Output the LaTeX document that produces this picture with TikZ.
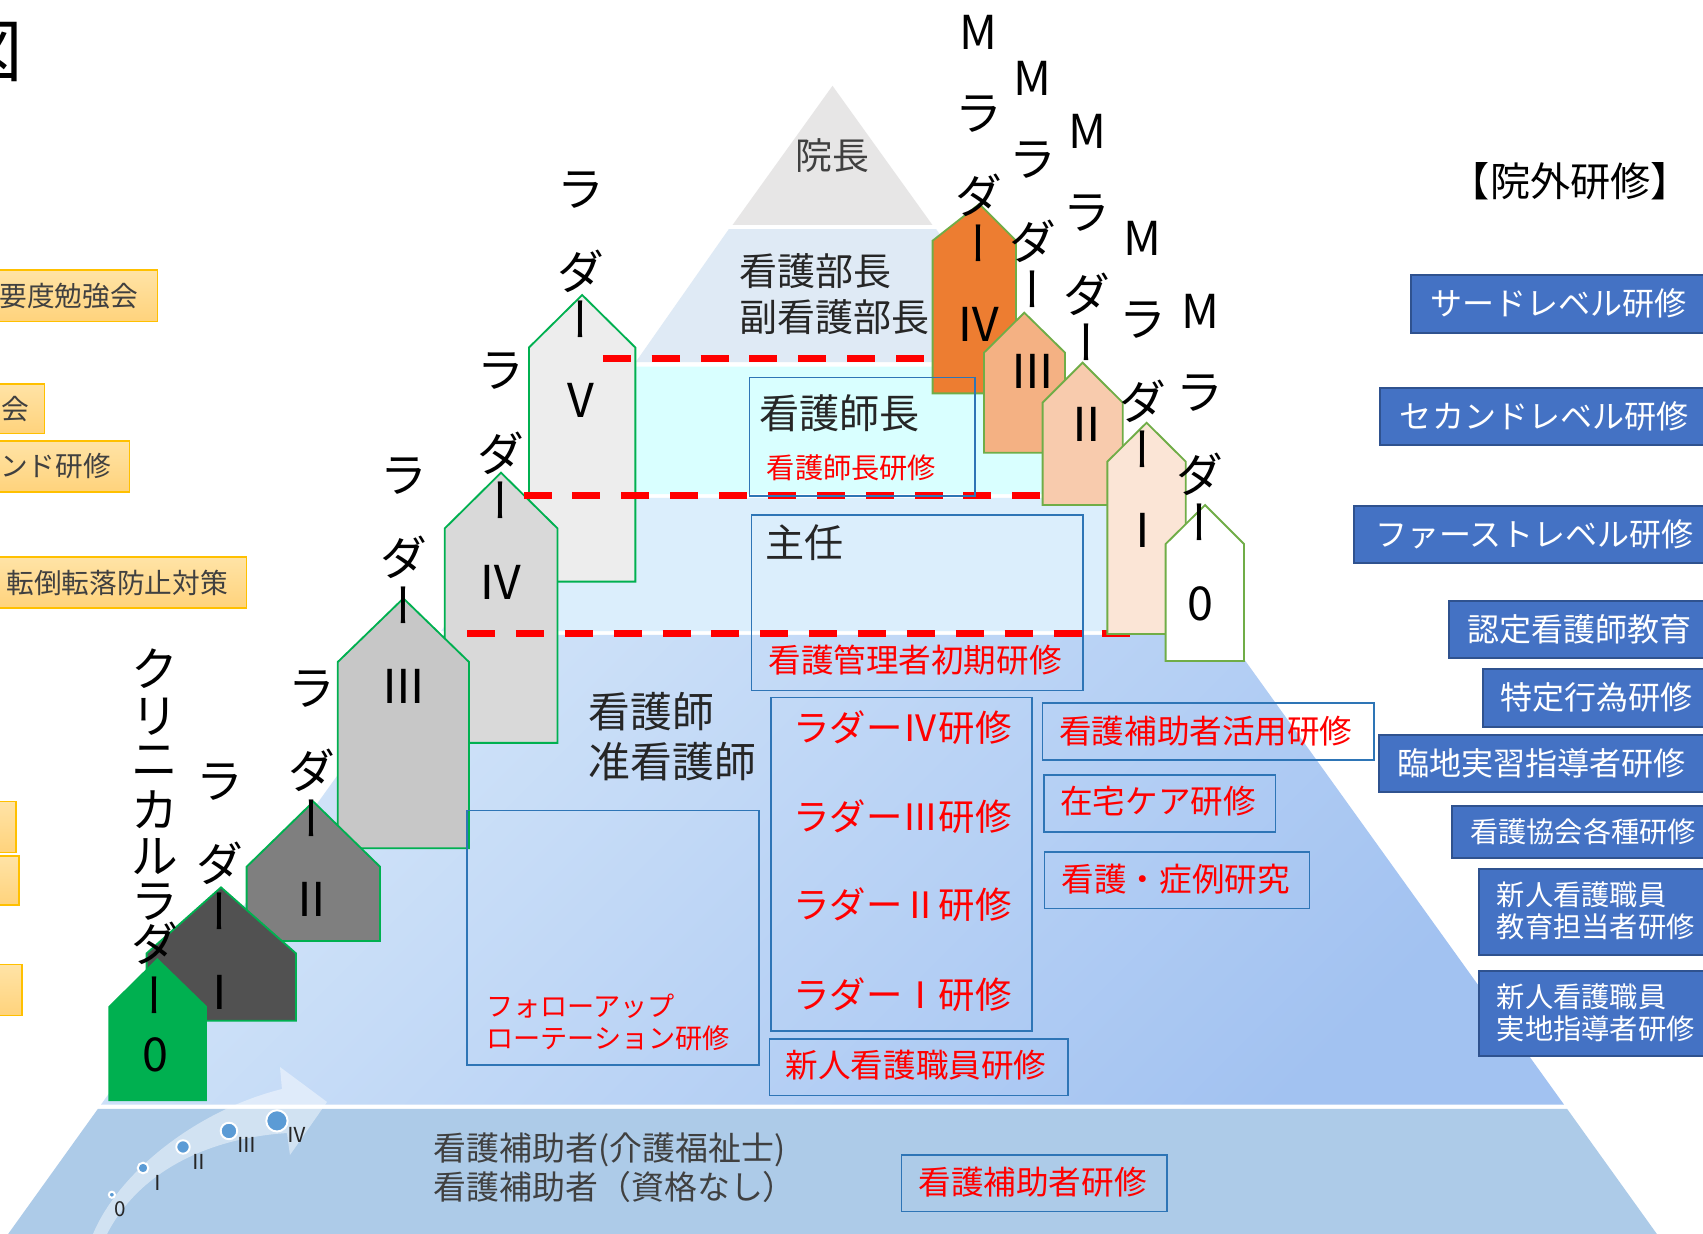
\documentclass[tikz,border=0pt]{standalone}
\usepackage{fontspec}
\setmainfont{Noto Sans CJK JP}
\newfontfamily\vjp{Noto Sans CJK JP}[RawFeature=+vert]
\definecolor{tgray}{HTML}{262626}
\definecolor{tdark}{HTML}{404040}
\definecolor{bandA}{HTML}{E7E6E6}
\definecolor{bandB}{HTML}{DFEAF5}
\definecolor{bandC}{HTML}{D9FFFF}
\definecolor{bandD}{HTML}{DBEEFC}
\definecolor{bandEa}{HTML}{D3E5F9}
\definecolor{bandEb}{HTML}{A2C2F1}
\definecolor{bandF}{HTML}{ADCBE8}
\definecolor{lineblue}{HTML}{2E75B6}
\definecolor{hgreen}{HTML}{00B050}
\definecolor{mgreen}{HTML}{70AD47}
\definecolor{hIc}{HTML}{515151}
\definecolor{hIIc}{HTML}{7F7F7F}
\definecolor{hIIIc}{HTML}{C7C7C7}
\definecolor{hIVc}{HTML}{D9D9D9}
\definecolor{hVc}{HTML}{EDEDED}
\definecolor{mIVc}{HTML}{ED7D31}
\definecolor{mIIIc}{HTML}{F4B183}
\definecolor{mIIc}{HTML}{F8CBAD}
\definecolor{mIc}{HTML}{FBE5D6}
\definecolor{rbfill}{HTML}{4472C4}
\definecolor{rbdraw}{HTML}{2F528F}
\definecolor{obA}{HTML}{FFE3A6}
\definecolor{obB}{HTML}{FFD37C}
\definecolor{obdraw}{HTML}{FFC000}
\definecolor{dotc}{HTML}{5B9BD5}
\definecolor{jred}{HTML}{FF0000}

\newcommand\fsz[2]{\fontsize{\fpeval{#1/2}pt}{\fpeval{#2/2}pt}\selectfont}

% x1 x2 apexx apexy shoulder bottom fill draw
\newcommand\house[8]{%
  \filldraw[fill=#7, draw=#8, line width=0.85pt, line join=miter]
    (#1,#6) -- (#1,#5) -- (#3,#4) -- (#2,#5) -- (#2,#6) -- cycle;}

% prefix, x, y of ラ, numeral
\newcommand\ladlab[4]{%
  \node[lab] (#1ra) at (#2,#3) {ラ};
  \node[lab] (#1da) at (#2,#3+75) {ダ};
  \node[lab] (#1bar) at (#2,#3+119) {\vjp ー};
  \node[lab] (#1num) at (#2,#3+194) {#4};}
\newcommand\mlab[4]{%
  \node[lab] (#1em) at (#2,#3) {M};
  \ladlab{#1}{#2}{#3+75}{#4}}

\tikzset{
  lab/.style={inner sep=0pt, outer sep=0pt, text=black, font={\fsz{43}{50}}},
  txt/.style={inner sep=0pt, outer sep=0pt, text=tgray},
  rtxt/.style={inner sep=0pt, outer sep=0pt, text=jred},
  wtxt/.style={inner sep=0pt, outer sep=0pt, text=white, anchor=west},
  bline/.style={draw=lineblue, line width=0.75pt},
  rdash/.style={draw=jred, line width=3.25pt, dash pattern=on 12.9pt off 9.6pt},
  rbox/.style={fill=rbfill, draw=rbdraw, line width=0.9pt},
  obox/.style={top color=obA, bottom color=obB, draw=obdraw, line width=0.8pt},
}

\begin{document}
\begin{tikzpicture}[x=0.5pt,y=-0.5pt]
\useasboundingbox (0,0) rectangle (1568,1136);
\begin{scope}
\clip (0,0) rectangle (1568,1136);
\fill[white] (0,0) rectangle (1568,1136);

% ---------- pyramid bands ----------
\fill[bandA] (766.5,79) -- (858.4,207) -- (674.6,207) -- cycle;
\fill[bandB] (671,211) -- (862,211) -- (947.8,333.5) -- (585.2,333.5) -- cycle;
\fill[bandC] (582.3,337.5) -- (950.7,337.5) -- (1035,455) -- (498,455) -- cycle;
\fill[bandD] (494,458.5) -- (1039,458.5) -- (1126.9,581) -- (406.1,581) -- cycle;
\shade[top color=bandEa, bottom color=bandEb, shading angle=45]
  (403.6,584.5) -- (1129.4,584.5) -- (1440,1017) -- (93,1017) -- cycle;
\fill[bandF] (90.1,1021) -- (1442.9,1021) -- (1525.4,1136) -- (7.6,1136) -- cycle;

% ---------- growth arrow ----------
\fill[white, opacity=0.45] (85.6,1136.2) .. controls (110.5,1077.1) and (184.1,1021.3) .. (259.6,1002.7)
  -- (257.8,982.4) -- (301.1,1014.6) -- (267.0,1063.4) -- (264.2,1043.2)
  .. controls (193.4,1047.8) and (128.9,1077.2) .. (98.5,1136.2) -- cycle;
\foreach \px/\py/\r in {103/1100/2.8, 131.7/1075.4/4.9, 168.5/1056/6.2, 210.8/1041.3/7.6, 255/1032/9.8}
  \filldraw[fill=dotc, draw=white, line width=0.9pt] (\px,\py) circle[radius=\r];
\foreach \nm/\rn/\px/\py in {g0/0/110.5/1113, g1/Ⅰ/145/1089, g2/Ⅱ/183.5/1069.6, g3/Ⅲ/227.7/1054.2, g4/Ⅳ/273.2/1045}
  \node[txt, font={\fsz{19}{22}}] (\nm) at (\px,\py) {\rn};

% ---------- clinical ladder houses ----------
\house{487}{585}{536}{271.6}{320}{535.5}{hVc}{hgreen}
\house{409.5}{513.3}{461.3}{435.2}{486.5}{684}{hIVc}{hgreen}
\house{311}{431.8}{371.4}{550.9}{609.5}{781}{hIIIc}{hgreen}
\house{227.1}{349.9}{288.5}{738.1}{798}{866.4}{hIIc}{hgreen}
\house{135}{272.5}{203.5}{817}{877.8}{939.8}{hIc}{hgreen}
\house{100.7}{189.7}{144.9}{883.3}{926.9}{1013}{hgreen}{hgreen}

\ladlab{hV}{535}{175}{Ⅴ}
\ladlab{hIV}{461}{342}{Ⅳ}
\ladlab{hIII}{372}{438}{Ⅲ}
\ladlab{hII}{287}{634}{Ⅱ}
\ladlab{hI}{202}{720}{Ⅰ}
\foreach \nm/\ch/\yy in {c1/ク/615.3, c2/リ/659.8, c3/ニ/701.3, c4/カ/745.8, c5/ル/788.7, c6/ラ/830.2, c7/ダ/868.6, c8/{\vjp ー}/916.1, c9/0/971.4}
  \node[lab] (\nm) at (142.7,\yy) {\ch};

% ---------- red dashed boundaries ----------
\draw[rdash] (555,330.5) -- (858,330.5);
\draw[rdash] (482,456.5) -- (960,456.5);
\draw[rdash] (430,583) -- (1045,583);

% ---------- management ladder houses ----------
\house{858.7}{935.5}{901.7}{187.8}{221.6}{362.2}{mIVc}{mgreen}
\house{906}{980.6}{943.1}{287.9}{324.7}{416.8}{mIIIc}{mgreen}
\house{960}{1033.7}{996.8}{333.9}{370.7}{465}{mIIc}{mgreen}
\house{1019.6}{1091.7}{1055.7}{389.2}{425}{583.7}{mIc}{mgreen}
\house{1073.2}{1145.4}{1109.5}{465}{500.9}{608.6}{white}{mgreen}

\mlab{mIV}{901}{30}{Ⅳ}
\mlab{mIII}{951}{72.5}{Ⅲ}
\mlab{mII}{1001}{121.4}{Ⅱ}
\mlab{mI}{1052}{219.4}{Ⅰ}
\mlab{mO}{1105}{287}{0}

% ---------- texts and boxes inside the pyramid ----------
\node[txt, text=tdark, font={\fsz{34}{40}}] (inchou) at (766.5,143) {院長};
\node[txt, anchor=west, align=left, font={\fsz{35}{42}}] (bucho) at (681,271) {看護部長\\副看護部長};

\draw[bline] (690,347.4) rectangle (897.7,456.5);
\node[txt, anchor=west, font={\fsz{37}{44}}] (shicho) at (699,380.5) {看護師長};
\node[rtxt, anchor=west, font={\fsz{26}{30}}] (shichoken) at (706,431) {看護師長研修};

\draw[bline] (692,474.2) rectangle (997,635.9);
\node[txt, anchor=west, font={\fsz{36}{42}}] (shunin) at (705,499.5) {主任};
\node[rtxt, anchor=west, font={\fsz{30}{36}}] (kanrisha) at (707.5,607.7) {看護管理者初期研修};

\node[txt, anchor=west, align=left, font={\fsz{38.5}{46}}] (kangoshi) at (542,678.3) {看護師\\准看護師};

\draw[bline] (709.6,642.1) rectangle (950,949.3);
\foreach \nm/\rn/\yy in {ladIV/Ⅳ/669.5, ladIII/Ⅲ/751.5, ladII/Ⅱ/833, ladI/Ⅰ/916}
  \node[rtxt, anchor=west, font={\fsz{33.5}{40}}] (\nm) at (730.5,\yy) {ラダー\rn 研修};

\draw[bline] (430,746.3) rectangle (698.8,980.8);
\node[rtxt, anchor=west, align=left, font={\fsz{25}{30}}] (follow) at (447.5,941.2) {フォローアップ\\ローテーション研修};

\draw[bline] (708.4,956.8) rectangle (983.5,1008.6);
\node[rtxt, anchor=west, font={\fsz{30}{36}}] (shinjin) at (723.5,981.1) {新人看護職員研修};

\draw[bline] (960,647.4) rectangle (1265.3,699.8);
\node[rtxt, anchor=west, font={\fsz{30}{36}}] (katsuyo) at (975.3,673) {看護補助者活用研修};
\draw[bline] (961.2,713.8) rectangle (1174.4,766.2);
\node[rtxt, anchor=west, font={\fsz{30}{36}}] (zaitaku) at (976.3,737.2) {在宅ケア研修};
\draw[bline] (961.7,784.4) rectangle (1205.6,836.4);
\node[rtxt, anchor=west, font={\fsz{30}{36}}] (kenkyu) at (977.5,809) {看護・症例研究};

\node[txt, text=tdark, anchor=west, align=left, font={\fsz{30.3}{36}}] (hojo) at (399.5,1075) {看護補助者(介護福祉士)\\看護補助者（資格なし）};
\draw[bline] (830,1063.3) rectangle (1074.5,1115.3);
\node[rtxt, anchor=west, font={\fsz{30}{36}}] (hojoken) at (845.8,1088) {看護補助者研修};

% ---------- outside trainings (right) ----------
\node[txt, text=black, font={\fsz{37}{42}}] (ingai) at (1446,167.3) {【院外研修】};
\filldraw[rbox] (1299.2,253.1) rectangle (1580,306.3);
\node[wtxt, font={\fsz{29.5}{36}}] (third) at (1316.7,279.7) {サードレベル研修};
\filldraw[rbox] (1270.9,357.1) rectangle (1580,409.6);
\node[wtxt, font={\fsz{29.5}{36}}] (second) at (1289,383.4) {セカンドレベル研修};
\filldraw[rbox] (1246.7,466) rectangle (1580,518.5);
\node[wtxt, font={\fsz{29.5}{36}}] (first) at (1266,492.3) {ファーストレベル研修};
\filldraw[rbox] (1334.4,553.5) rectangle (1580,606);
\node[wtxt, font={\fsz{29.5}{36}}] (nintei) at (1351.3,579.8) {認定看護師教育};
\filldraw[rbox] (1365.1,616.3) rectangle (1580,669.7);
\node[wtxt, font={\fsz{29.5}{36}}] (tokutei) at (1381.1,642.5) {特定行為研修};
\filldraw[rbox] (1269.7,676.7) rectangle (1580,729.5);
\node[wtxt, font={\fsz{29.5}{36}}] (rinchi) at (1286.6,702.5) {臨地実習指導者研修};
\filldraw[rbox] (1336.9,741.8) rectangle (1580,790.3);
\node[wtxt, font={\fsz{26}{31}}] (kyokai) at (1353.7,765.5) {看護協会各種研修};
\filldraw[rbox] (1362.1,800.1) rectangle (1580,879.3);
\node[wtxt, align=left, font={\fsz{26}{29.5}}] (kyoiku) at (1378.2,838.5) {新人看護職員\\教育担当者研修};
\filldraw[rbox] (1362.1,893.7) rectangle (1580,972.3);
\node[wtxt, align=left, font={\fsz{26}{29.5}}] (jicchi) at (1378.2,932.5) {新人看護職員\\実地指導者研修};

% ---------- in-house trainings (left, cut off) ----------
\filldraw[obox] (-10,248.3) rectangle (145.1,296.1);
\node[txt, text=tdark, anchor=east, font={\fsz{25.5}{30}}] (oA) at (127,272.2) {要度勉強会};
\filldraw[obox] (-10,353.4) rectangle (41,399.2);
\node[txt, text=tdark, anchor=east, font={\fsz{25.5}{30}}] (oB) at (26.5,376.3) {会};
\filldraw[obox] (-10,405.7) rectangle (119.2,452.7);
\node[txt, text=tdark, anchor=east, font={\fsz{25.5}{30}}] (oC) at (102,429.2) {ンド研修};
\filldraw[obox] (-10,513.1) rectangle (226.9,559.7);
\node[txt, text=tdark, anchor=east, font={\fsz{25.5}{30}}] (oD) at (210,536.4) {転倒転落防止対策};
\filldraw[obox] (-10,738) rectangle (14.7,785);
\filldraw[obox] (-10,788) rectangle (17.5,833);
\filldraw[obox] (-10,888) rectangle (20,935);

\node[txt, text=black, anchor=east, font={\fsz{63}{70}}] (zu) at (21,48) {図};
\end{scope}
\end{tikzpicture}
\end{document}
